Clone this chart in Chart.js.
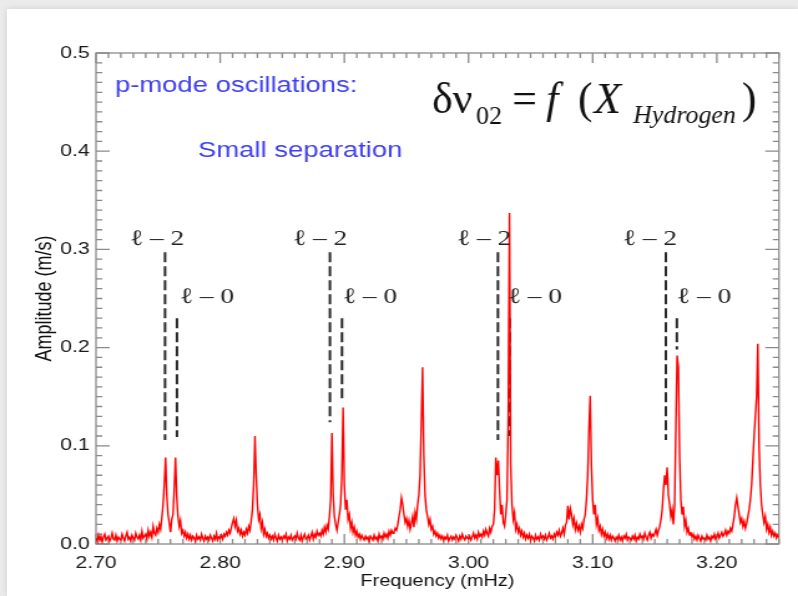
<!DOCTYPE html>
<html><head><meta charset="utf-8">
<script src="https://cdn.jsdelivr.net/npm/chart.js@4.4.1/dist/chart.umd.min.js"></script>
<style>
html,body{margin:0;padding:0;width:798px;height:596px;overflow:hidden;background:#ebebeb;}
#panel{position:absolute;left:7px;top:9px;width:791px;height:587px;background:#fff;box-shadow:0 0 6px rgba(0,0,0,0.12);}
#c{position:absolute;left:0;top:0;}
</style></head>
<body><div id="panel"></div>
<canvas id="c" width="640" height="596" style="width:798px;height:596px"></canvas>
<script>
// ---- data (frequency grid in mHz, amplitude in m/s) ----
const freqStart = 2.700;
const freqStep = 0.001;
const amplitude = [
0.006,0.003,0.009,0.004,0.008,0.002,0.007,0.010,0.004,0.006,
0.008,0.003,0.006,0.011,0.005,0.004,0.009,0.003,0.007,0.005,
0.004,0.010,0.006,0.003,0.008,0.012,0.005,0.007,0.003,0.009,
0.006,0.004,0.011,0.007,0.005,0.009,0.004,0.013,0.006,0.008,
0.010,0.005,0.014,0.008,0.012,0.007,0.018,0.011,0.009,0.016,
0.012,0.020,0.015,0.026,0.040,0.060,0.088,0.050,0.030,0.022,
0.012,0.025,0.030,0.055,0.088,0.048,0.028,0.018,0.024,0.011,
0.014,0.008,0.012,0.006,0.010,0.005,0.009,0.004,0.008,0.006,
0.003,0.009,0.005,0.007,0.004,0.010,0.006,0.003,0.008,0.005,
0.007,0.004,0.009,0.006,0.003,0.008,0.005,0.011,0.004,0.007,
0.006,0.009,0.005,0.010,0.008,0.012,0.009,0.014,0.011,0.017,
0.022,0.026,0.018,0.024,0.013,0.016,0.010,0.014,0.008,0.012,
0.009,0.015,0.011,0.018,0.014,0.024,0.035,0.060,0.110,0.070,
0.040,0.025,0.030,0.016,0.022,0.010,0.015,0.008,0.011,0.006,
0.009,0.005,0.008,0.004,0.010,0.006,0.003,0.009,0.005,0.007,
0.004,0.008,0.006,0.010,0.003,0.007,0.005,0.009,0.004,0.006,
0.008,0.005,0.011,0.006,0.004,0.009,0.003,0.007,0.010,0.005,
0.006,0.009,0.004,0.008,0.012,0.005,0.010,0.007,0.013,0.009,
0.011,0.008,0.014,0.010,0.017,0.012,0.019,0.015,0.028,0.045,
0.113,0.050,0.028,0.020,0.014,0.022,0.030,0.040,0.070,0.139,
0.060,0.035,0.045,0.025,0.030,0.016,0.022,0.012,0.017,0.009,
0.013,0.007,0.010,0.005,0.009,0.006,0.004,0.008,0.005,0.007,
0.003,0.008,0.006,0.004,0.009,0.005,0.007,0.003,0.010,0.006,
0.008,0.005,0.011,0.007,0.010,0.006,0.013,0.009,0.014,0.011,
0.012,0.016,0.014,0.020,0.028,0.035,0.047,0.040,0.030,0.022,
0.026,0.018,0.024,0.015,0.021,0.028,0.017,0.032,0.025,0.040,
0.050,0.070,0.125,0.180,0.090,0.050,0.035,0.028,0.020,0.025,
0.015,0.018,0.010,0.013,0.008,0.011,0.006,0.009,0.005,0.008,
0.004,0.007,0.005,0.009,0.003,0.006,0.008,0.004,0.007,0.005,
0.009,0.006,0.003,0.008,0.005,0.010,0.006,0.004,0.008,0.006,
0.005,0.008,0.004,0.007,0.011,0.006,0.009,0.005,0.012,0.008,
0.010,0.007,0.013,0.009,0.015,0.011,0.008,0.016,0.012,0.018,
0.020,0.035,0.088,0.070,0.085,0.055,0.030,0.040,0.022,0.018,
0.030,0.045,0.130,0.337,0.080,0.040,0.025,0.032,0.015,0.020,
0.012,0.016,0.009,0.013,0.007,0.011,0.005,0.009,0.006,0.010,
0.004,0.008,0.006,0.003,0.009,0.005,0.007,0.004,0.010,0.006,
0.008,0.005,0.009,0.004,0.007,0.011,0.006,0.008,0.005,0.010,
0.007,0.012,0.009,0.014,0.008,0.011,0.016,0.010,0.019,0.022,
0.039,0.025,0.036,0.030,0.020,0.026,0.015,0.021,0.014,0.018,
0.012,0.020,0.016,0.025,0.030,0.045,0.070,0.118,0.151,0.080,
0.045,0.030,0.040,0.020,0.026,0.014,0.018,0.010,0.015,0.008,
0.012,0.006,0.010,0.005,0.009,0.004,0.008,0.006,0.003,0.007,
0.005,0.009,0.004,0.007,0.003,0.008,0.006,0.010,0.004,0.007,
0.006,0.004,0.008,0.005,0.009,0.003,0.007,0.005,0.010,0.006,
0.008,0.005,0.011,0.007,0.004,0.009,0.012,0.006,0.010,0.008,
0.011,0.015,0.009,0.014,0.018,0.025,0.035,0.055,0.070,0.060,
0.078,0.050,0.040,0.028,0.035,0.020,0.040,0.120,0.192,0.180,
0.090,0.045,0.030,0.038,0.018,0.024,0.012,0.016,0.009,0.012,
0.007,0.010,0.005,0.008,0.004,0.009,0.006,0.003,0.008,0.005,
0.006,0.004,0.009,0.005,0.007,0.003,0.008,0.006,0.010,0.005,
0.007,0.011,0.006,0.009,0.012,0.008,0.010,0.014,0.009,0.013,
0.011,0.016,0.013,0.020,0.028,0.040,0.047,0.038,0.030,0.022,
0.026,0.018,0.023,0.016,0.021,0.028,0.035,0.045,0.060,0.085,
0.110,0.130,0.150,0.204,0.100,0.060,0.040,0.030,0.022,0.028,
0.015,0.020,0.012,0.017,0.009,0.013,0.008,0.011,0.006,0.009,
0.007
];
const frequency = amplitude.map((_, i) => Math.round((freqStart + i * freqStep) * 1000) / 1000);

const xTicks = [2.70, 2.80, 2.90, 3.00, 3.10, 3.20];
const yTicks = [0.0, 0.1, 0.2, 0.3, 0.4, 0.5];

// mode markers (l=2 and l=0)
const l2Freq = [2.7556, 2.8884, 3.0237, 3.1589];
const l2From = [0.297, 0.297, 0.297, 0.297];
const l2To   = [0.106, 0.124, 0.106, 0.106];
const l0Freq = [2.7652, 2.8981, 3.0333, 3.1678];
const l0From = [0.230, 0.230, 0.230, 0.230];
const l0To   = [0.109, 0.145, 0.110, 0.198];
const l2LabelFreq = [2.7274, 2.8586, 2.9907, 3.1243];
const l0LabelFreq = [2.7676, 2.8989, 3.0317, 3.1678];
const l2LabelAmp = 0.3045;
const l0LabelAmp = 0.2454;

const SX = 640 / 798;
const SANS = "'Liberation Sans', Arial, sans-serif";
const SERIF = "'Liberation Serif', 'DejaVu Serif', 'Times New Roman', serif";
const BLUE = '#4040f2';

const framePlugin = {
  id: 'frame',
  beforeDatasetsDraw(chart) {
    const {ctx, chartArea: {left, right, top, bottom}, scales: {x, y}} = chart;
    ctx.save();
    ctx.strokeStyle = '#8a8a8a';
    ctx.lineWidth = 1.3;
    ctx.strokeRect(left, top, right - left, bottom - top);
    ctx.beginPath();
    for (let v = 270; v <= 325; v++) {
      const px = x.getPixelForValue(v / 100);
      const len = (v % 10 === 0) ? 10 : 5;
      ctx.moveTo(px, top); ctx.lineTo(px, top + len);
      ctx.moveTo(px, bottom); ctx.lineTo(px, bottom - len);
    }
    for (let v = 0; v <= 50; v++) {
      const py = y.getPixelForValue(v / 100);
      const len = (v % 10 === 0) ? 11 : 5;
      ctx.moveTo(left, py); ctx.lineTo(left + len, py);
      ctx.moveTo(right, py); ctx.lineTo(right - len, py);
    }
    ctx.stroke();
    // dashed mode markers
    ctx.strokeStyle = '#2a2a2a';
    ctx.lineWidth = 2;
    ctx.setLineDash([10, 4]);
    const dash = (f, a0, a1) => {
      const px = x.getPixelForValue(f);
      ctx.beginPath();
      ctx.moveTo(px, y.getPixelForValue(a0));
      ctx.lineTo(px, y.getPixelForValue(a1));
      ctx.stroke();
    };
    l2Freq.forEach((f, i) => dash(f, l2From[i], l2To[i]));
    l0Freq.forEach((f, i) => dash(f, l0From[i], l0To[i]));
    ctx.restore();
  },
  afterDatasetsDraw(chart) {
    const {ctx, scales: {x, y}} = chart;
    ctx.save();
    // labels
    ctx.fillStyle = '#222';
    ctx.font = '22px ' + SERIF;
    ctx.textBaseline = 'alphabetic';
    ctx.textAlign = 'left';
    l2LabelFreq.forEach(f => ctx.fillText('\u2113 \u2013 2', x.getPixelForValue(f), y.getPixelForValue(l2LabelAmp)));
    l0LabelFreq.forEach(f => ctx.fillText('\u2113 \u2013 0', x.getPixelForValue(f), y.getPixelForValue(l0LabelAmp)));
    // blue text
    ctx.fillStyle = BLUE;
    ctx.font = '22px ' + SANS;
    ctx.fillText('p-mode oscillations:', 115 * SX, 92);
    ctx.fillText('Small separation', 198 * SX, 157);
    // formula, drawn unstretched
    ctx.scale(SX, 1);
    ctx.fillStyle = '#111';
    ctx.font = '44px ' + SERIF;
    ctx.fillText('\u03B4\u03BD', 432, 113);
    ctx.font = '26px ' + SERIF;
    ctx.fillText('02', 476, 124);
    ctx.font = '44px ' + SERIF;
    ctx.fillText('=', 512, 113);
    ctx.font = 'italic 44px ' + SERIF;
    ctx.fillText('f', 546, 113);
    ctx.font = '44px ' + SERIF;
    ctx.fillText('(', 578, 113);
    ctx.font = 'italic 44px ' + SERIF;
    ctx.fillText('X', 594, 113);
    ctx.font = 'italic 26px ' + SERIF;
    ctx.fillText('Hydrogen', 633, 123);
    ctx.font = '44px ' + SERIF;
    ctx.fillText(')', 742, 113);
    ctx.restore();
  }
};

const ctx = document.getElementById('c').getContext('2d');
new Chart(ctx, {
  type: 'line',
  data: {
    datasets: [{
      data: frequency.map((f, i) => ({x: f, y: amplitude[i]})),
      borderColor: '#ff0000',
      borderWidth: 1.4,
      pointRadius: 0,
      tension: 0,
      fill: false
    }]
  },
  options: {
    responsive: false,
    animation: false,
    devicePixelRatio: 1,
    layout: {padding: {top: 53, right: 15.3, left: 0, bottom: 0}},
    plugins: {legend: {display: false}, tooltip: {enabled: false}},
    scales: {
      x: {
        type: 'linear', min: 2.70, max: 3.25,
        afterFit(s) { s.height = 52; },
        afterBuildTicks(s) { s.ticks = xTicks.map(v => ({value: v})); },
        grid: {display: false, drawTicks: false},
        border: {display: false},
        ticks: {padding: 9, color: '#1a1a1a', maxRotation: 0, autoSkip: false,
                font: {family: SANS, size: 17}, callback: v => v.toFixed(2)},
        title: {display: true, text: 'Frequency (mHz)', color: '#111',
                font: {family: SANS, size: 16}, padding: {top: 0, bottom: 5}}
      },
      y: {
        min: 0, max: 0.5,
        afterFit(s) { s.width = 77; },
        afterBuildTicks(s) { s.ticks = yTicks.map(v => ({value: v})); },
        grid: {display: false, drawTicks: false},
        border: {display: false},
        ticks: {padding: 5, color: '#1a1a1a', font: {family: SANS, size: 17},
                callback: v => v.toFixed(1)},
        title: {display: true, text: 'Amplitude (m/s)', color: '#111',
                font: {family: SANS, size: 18}, padding: {top: 25, bottom: 0}}
      }
    }
  },
  plugins: [framePlugin]
});
</script>
</body></html>
